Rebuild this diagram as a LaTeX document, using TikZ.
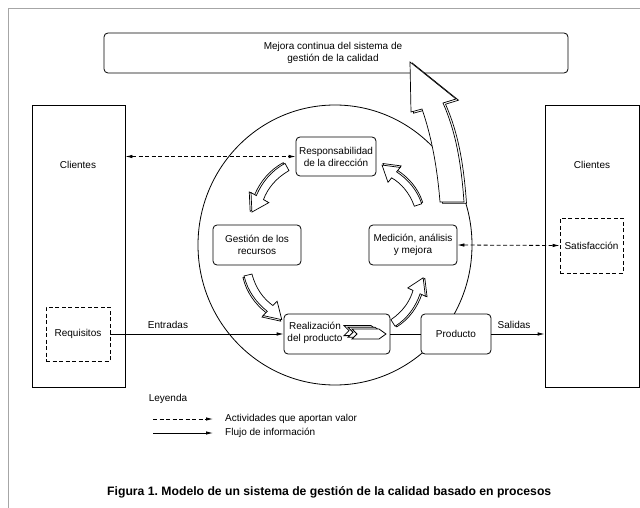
\documentclass[tikz,border=0pt]{standalone}
\usepackage{fontspec}
\setmainfont{Liberation Sans}
\usetikzlibrary{arrows.meta,shapes.geometric}
\frenchspacing
\begin{document}
\begin{tikzpicture}[x=1pt,y=-1pt,
  every node/.style={font=\fontsize{10}{12}\selectfont, inner sep=0pt},
  sqbox/.style={draw, line width=0.8pt},
  rbox/.style={draw, fill=white, line width=0.8pt, rounded corners=4pt, align=center},
  dbox/.style={draw, line width=0.8pt, dash pattern=on 4pt off 2.5pt},
  flow/.style={line width=0.8pt, -{Latex[length=7pt,width=3.5pt]}},
  dflow/.style={line width=0.8pt, dash pattern=on 4pt off 2.5pt, {Latex[length=7pt,width=3.5pt]}-{Latex[length=7pt,width=3.5pt]}},
  dflowone/.style={line width=0.8pt, dash pattern=on 4pt off 2.5pt, -{Latex[length=7pt,width=3.5pt]}},
  cyc/.pic={
    \draw[fill=white, line width=0.7pt, shift={(0.5,1.8)}] (-1.6,3.7) .. controls (12.5,10) and (27.5,10) .. (40.6,6.5) -- (41.5,12.4) -- (56,0) -- (38.5,-7.4) -- (39.4,-1.45) .. controls (28.5,2) and (15.5,2) .. (1.6,-3.7) -- cycle;
    \draw[fill=white, line width=0.7pt] (-1.6,3.7) .. controls (12.5,10) and (27.5,10) .. (40.6,6.5) -- (41.5,12.4) -- (56,0) -- (38.5,-7.4) -- (39.4,-1.45) .. controls (28.5,2) and (15.5,2) .. (1.6,-3.7) -- cycle;
  }
]
\useasboundingbox (0,0) rectangle (640,508);

% frame
\coordinate (f1) at (8,508);
\coordinate (f2) at (8,9);
\coordinate (f3) at (640,9);
\draw[gray!70, line width=1pt] (f1) -- (f2) -- (f3);

% top box
\node[rbox, minimum width=464pt, minimum height=40pt] (mejora) at (336,53) {};
\node[align=center] (mejoratxt) at (333,52.5) {Mejora continua del sistema de\\gestión de la calidad};

% circle
\node[draw, line width=0.8pt, ellipse, minimum width=274pt, minimum height=280pt] (circ) at (335,245) {};

% clients
\node[sqbox, minimum width=93pt, minimum height=282pt] (clL) at (78.5,246) {};
\node (clLt) at (78,165) {Clientes};
\node[sqbox, minimum width=94pt, minimum height=282pt] (clR) at (592,246) {};
\node (clRt) at (592,165) {Clientes};
\node[dbox, minimum width=64pt, minimum height=54pt] (req) at (78,334) {Requisitos};
\node[dbox, minimum width=63pt, minimum height=55pt] (sat) at (591.5,245.5) {Satisfacción};

% process boxes
\node[rbox, minimum width=80pt, minimum height=39pt] (resp) at (336,156.5) {Responsabilidad\\de la dirección};
\node[rbox, minimum width=88pt, minimum height=40pt] (gest) at (257,245) {Gestión de los\\recursos};
\node[rbox, minimum width=88pt, minimum height=40pt] (med) at (413,245) {Medición, análisis\\y mejora};
\node[rbox, minimum width=106pt, minimum height=40pt] (real) at (337,334) {};
\node[align=center] (realt) at (315,333) {Realización\\del producto};
\node[rbox, minimum width=70pt, minimum height=40pt] (prod) at (456,334) {Producto};

% chevrons
\foreach \cx/\cy in {344/325.6, 348/327.3, 352/329}{
  \draw[fill=white, line width=0.8pt] (\cx,\cy) -- ++(27,0) -- ++(7,5) -- ++(-7,5) -- ++(-27,0) -- ++(5,-5) -- cycle;
}

% connectors
\draw[flow] (req.east) -- (real.west);
\node (entr) at (168,325) {Entradas};
\draw[line width=0.8pt] (real.east) -- (prod.west);
\draw[flow] (prod.east) -- (prod.east -| clR.west);
\node (sal) at (514,325) {Salidas};
\draw[dflow] (resp.west -| clL.east) -- (resp.west);
\draw[dflow] (med.east) -- (sat.west);

% cycle arrows
\pic (a1) [rotate=-127.9, scale=1.02] at (287,167) {cyc};
\pic (a2) [rotate=-52.9, scale=1.0] at (248,275) {cyc};
\pic (a3) [rotate=56.3, scale=0.97] at (393,323) {cyc};
\pic (a4) [rotate=132, scale=0.96] at (418,205) {cyc};

% big improvement arrow
\draw[fill=white, line width=0.7pt, shift={(2.5,1.2)}] (410,62) -- (411,112) -- (422,109) .. controls (431,135) and (437,165) .. (440,202) -- (464,202) .. controls (461,160) and (455,130) .. (443,103) -- (456,99) -- cycle;
\draw[fill=white, line width=0.7pt] (410,62) -- (411,112) -- (422,109) .. controls (431,135) and (437,165) .. (440,202) -- (464,202) .. controls (461,160) and (455,130) .. (443,103) -- (456,99) -- cycle;

% legend
\node (ley) at (168,399) {Leyenda};
\coordinate (l1a) at (153,419);
\coordinate (l1b) at (213,419);
\coordinate (l2a) at (153,433);
\coordinate (l2b) at (213,433);
\draw[dflowone] (l1a) -- (l1b);
\draw[flow] (l2a) -- (l2b);
\node[anchor=west] (ley1) at (225,419) {Actividades que aportan valor};
\node[anchor=west] (ley2) at (225,433) {Flujo de información};

% caption
\node[anchor=west, font=\fontsize{12.2}{14}\selectfont\bfseries] (cap) at (107,492) {Figura 1. Modelo de un sistema de gestión de la calidad basado en procesos};
\end{tikzpicture}
\end{document}
